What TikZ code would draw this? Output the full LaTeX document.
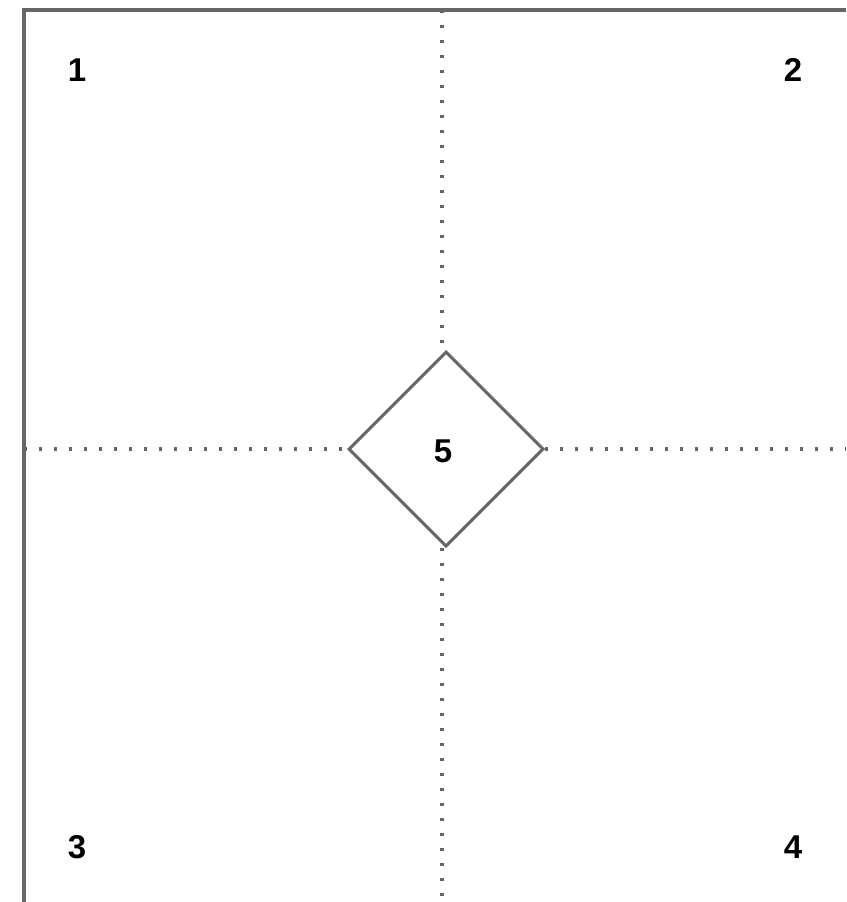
\documentclass[tikz,border=0pt]{standalone}
\usepackage{fontspec}
\setmainfont{Liberation Sans}
\usetikzlibrary{shapes.geometric}
\definecolor{linegray}{HTML}{666666}
\begin{document}
\begin{tikzpicture}[x=1pt,y=1pt,
  frame/.style={draw=linegray,line width=3.4pt},
  dots/.style={draw=linegray,line width=3.2pt,dash pattern=on 3.2pt off 11.8pt},
  lbl/.style={font=\fontsize{33}{36}\selectfont\bfseries,text=black,inner sep=0pt},
  dia/.style={diamond,draw=linegray,line width=3pt,minimum width=195pt,minimum height=195pt,inner sep=0pt,fill=white}]
\useasboundingbox (0,0) rectangle (846,-902);
\fill[white] (0,0) rectangle (846,-902);
% corners of the frame
\coordinate (bl) at (24,-902);
\coordinate (tl) at (24,-10);
\coordinate (tr) at (846,-10);
\coordinate (vt) at (442,-10);
\coordinate (vb) at (442,-902);
\coordinate (hl) at (24,-449);
\coordinate (hr) at (846,-449);
% central diamond
\node[dia] (d5) at (446,-449) {};
\node[lbl] (n5) at (443,-451) {5};
% dotted axes
\draw[dots] (vt) -- (vt |- d5.north);
\draw[dots] (vt |- d5.south) -- (vb);
\draw[dots] (hl) -- (d5.west);
\draw[dots] (d5.east) -- (hr);
% frame
\draw[frame] (bl) -- (tl) -- (tr);
% corner labels
\node[lbl] (n1) at (77,-70) {1};
\node[lbl] (n2) at (793,-70) {2};
\node[lbl] (n3) at (77,-847) {3};
\node[lbl] (n4) at (793,-847) {4};
\end{tikzpicture}
\end{document}
